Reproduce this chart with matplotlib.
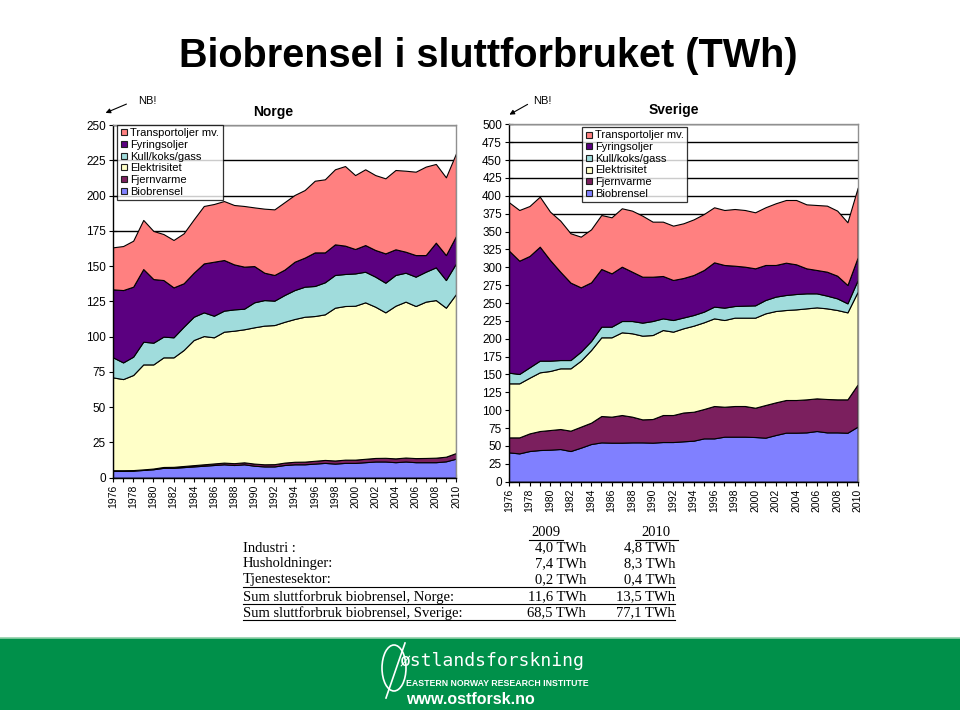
import matplotlib
matplotlib.use("Agg")
import matplotlib.pyplot as plt
from matplotlib.lines import Line2D
from matplotlib.patches import Rectangle, Ellipse

years = list(range(1976, 2011))

# ---------------- Norge (TWh) ----------------
no_bio = [5, 5, 5, 5.5, 6, 7, 7, 7.5, 8, 8.5, 9, 9.5, 9, 9.5, 8.5, 8, 8, 9, 9.5, 9.5,
          10, 10.5, 10, 10.5, 10.5, 11, 11.5, 11.5, 11, 11.5, 11, 11, 11, 11.6, 13.5]
no_fjv = [0.3, 0.3, 0.4, 0.4, 0.5, 0.6, 0.7, 0.8, 0.9, 1.0, 1.1, 1.2, 1.3, 1.4, 1.5, 1.5,
          1.6, 1.7, 1.8, 1.9, 2.0, 2.1, 2.2, 2.3, 2.3, 2.4, 2.5, 2.6, 2.7, 2.8, 2.9, 3.0,
          3.2, 3.3, 4.0]
no_el = [65.8, 64.6, 67.4, 74.4, 73.8, 77.7, 77.6, 82.2, 88.7, 90.9, 89.4, 92.8, 93.9,
         94.3, 96.6, 98.3, 98.6, 99.8, 101.2, 102.7, 102.6, 103.2, 108.3, 108.9, 109.1,
         110.9, 107.2, 103.1, 108.2, 110.5, 107.8, 110.8, 111.7, 105.6, 112.7]
no_kull = [14.2, 11.8, 13.0, 16.1, 15.4, 14.7, 14.2, 16.5, 16.5, 16.8, 15.3, 14.9, 15.1,
           14.6, 17.7, 18.1, 17.3, 19.0, 20.5, 21.3, 21.3, 22.7, 23.2, 22.7, 22.9, 21.7,
           21.3, 21.0, 21.8, 20.5, 20.8, 21.2, 23.2, 19.6, 21.7]
no_fyr = [48.2, 51.3, 49.6, 51.5, 45.1, 40.1, 35.4, 30.8, 31.2, 34.7, 38.3, 35.9, 31.9,
          29.8, 25.7, 19.4, 18.2, 18.0, 20.1, 20.6, 23.8, 21.2, 21.7, 20.1, 17.3, 18.9,
          18.9, 20.8, 18.2, 14.9, 15.3, 11.8, 17.5, 17.7, 19.4]
no_tr = [29.8, 31.2, 32.6, 34.8, 34.1, 32.6, 33.6, 35.4, 37.8, 40.7, 40.9, 41.8, 42.1,
         43.0, 41.6, 45.4, 46.5, 47.8, 47.3, 47.9, 50.8, 51.8, 53.2, 56.4, 52.4, 53.7,
         53.1, 53.2, 56.2, 57.4, 59.1, 62.7, 55.8, 55.1, 58.6]

# ---------------- Sverige (TWh) ----------------
se_bio = [41, 39.6, 42.9, 44.3, 44.8, 45.7, 42.9, 47.6, 52.7, 55, 54.6, 54.6, 55, 55,
          54.6, 55.5, 55.5, 56.5, 57.4, 60.6, 60.6, 63, 63, 63, 62.5, 61.6, 65.3, 68.6,
          68.6, 69, 70.9, 69, 69, 68.5, 77.1]
se_fjv = [21, 22.4, 24.7, 26.6, 27.5, 28, 28.5, 29.4, 29.9, 36.9, 36.4, 38.7, 36, 32.2,
          33.1, 37.8, 37.8, 40.3, 40.5, 41.1, 45.3, 41.9, 42.9, 42.9, 41, 45.7, 45.7,
          45.7, 45.7, 46.2, 45.7, 46.7, 46.2, 46.7, 59.1]
se_el = [75.6, 75.6, 77.9, 82.1, 82.6, 84.9, 87.2, 92.3, 101.6, 110.1, 111, 115.7, 116.6,
         117.1, 117.5, 118.9, 116.6, 117.8, 120.4, 121.3, 122.6, 121.3, 123.6, 123.6,
         126, 128.2, 127.8, 125.9, 126.8, 127.3, 127.3, 126.8, 125, 121.7, 129.7]
se_kull = [14.9, 13.1, 14.5, 16.3, 14.4, 11.6, 11.6, 12.6, 12.6, 14.9, 14.9, 15.8, 17.2,
           18.2, 19.6, 16.3, 16.3, 15.1, 14.9, 14.9, 16.4, 17.3, 16.3, 16.8, 17.2, 18.7,
           20.1, 21, 21.5, 21, 19.6, 17.8, 16.3, 12.6, 16.3]
se_fyr = [170.7, 158.5, 155.8, 159.5, 140.9, 123.6, 108.3, 90, 82.1, 80.7, 74.6, 76, 69,
          64.3, 62, 59.3, 56, 55.3, 56, 58.3, 62, 59.7, 56.4, 54.5, 51.8, 49, 44.3, 45.2,
          41.5, 35, 32.7, 33.5, 31.7, 25.7, 31.7]
se_tr = [67.7, 70.9, 69.9, 70, 67.6, 71.4, 69, 70.9, 74.1, 75.5, 78.4, 81.7, 85.4, 85.4,
         77, 76, 76, 76.5, 77.8, 78.3, 77, 76.9, 79.3, 79.3, 78.4, 80.7, 86.3, 87.7, 90,
         89.5, 90.9, 92.4, 91, 87.7, 97.5]

series_labels = ["Biobrensel", "Fjernvarme", "Elektrisitet", "Kull/koks/gass",
                 "Fyringsoljer", "Transportoljer mv."]
colors = ["#8080FF", "#7B1F5E", "#FFFFC8", "#A0DCDC", "#5B0080", "#FF8080"]

# Table
tbl_years = ["2009", "2010"]
tbl_rows = ["Industri :", "Husholdninger:", "Tjenestesektor:",
            "Sum sluttforbruk biobrensel, Norge:", "Sum sluttforbruk biobrensel, Sverige:"]
tbl_2009 = ["4,0 TWh", "7,4 TWh", "0,2 TWh", "11,6 TWh", "68,5 TWh"]
tbl_2010 = ["4,8 TWh", "8,3 TWh", "0,4 TWh", "13,5 TWh", "77,1 TWh"]

plt.rcParams['font.family'] = ['Liberation Sans', 'DejaVu Sans']

W, H = 960, 710
fig = plt.figure(figsize=(W / 100, H / 100), dpi=100)
fig.patch.set_facecolor("white")


def fx(px):
    return px / W


def fy(py):
    return 1 - py / H


def style_axes(ax, ymax):
    ax.set_xlim(1976, 2010)
    ax.set_ylim(0, ymax)
    ax.set_yticks(range(0, ymax + 1, 25))
    ax.set_xticks(years)
    ax.set_xticklabels([str(y) if (y - 1976) % 2 == 0 else "" for y in years],
                       rotation=90, fontsize=7.5)
    ax.tick_params(axis='y', labelsize=8.5, direction='inout', length=6, width=0.8, pad=2)
    ax.tick_params(axis='x', direction='inout', length=6, width=0.8, pad=2)
    ax.set_axisbelow(True)
    ax.yaxis.grid(True, color='black', linewidth=1.0)
    ax.xaxis.grid(False)
    for s in ['top', 'right']:
        ax.spines[s].set_color('#909090')
        ax.spines[s].set_linewidth(1.0)
    for s in ['left', 'bottom']:
        ax.spines[s].set_color('black')
        ax.spines[s].set_linewidth(1.0)


def legend(ax, anchor):
    handles = [Line2D([], [], marker='s', linestyle='none', markersize=5,
                      markerfacecolor=c, markeredgecolor='#202020', markeredgewidth=0.8)
               for c in colors]
    lg = ax.legend(handles[::-1], series_labels[::-1], loc='upper left',
                   bbox_to_anchor=anchor, borderaxespad=0, fontsize=8,
                   frameon=True, fancybox=False, handlelength=0.6, handletextpad=0.3,
                   labelspacing=0.15, borderpad=0.3)
    lg.get_frame().set_edgecolor('black')
    lg.get_frame().set_linewidth(0.9)
    lg.set_zorder(10)


# Norge
axN = fig.add_axes([fx(113), fy(477.7), 343 / W, 352.7 / H])
axN.stackplot(years, no_bio, no_fjv, no_el, no_kull, no_fyr, no_tr, colors=colors,
              edgecolor='black', linewidth=0.8)
style_axes(axN, 250)
legend(axN, (0.012, 1.0))

# Sverige
axS = fig.add_axes([fx(509), fy(481.7), 348.7 / W, 357.4 / H])
axS.stackplot(years, se_bio, se_fjv, se_el, se_kull, se_fyr, se_tr, colors=colors,
              edgecolor='black', linewidth=0.8)
style_axes(axS, 500)
legend(axS, (0.209, 0.992))

# Titles
fig.text(fx(488), fy(56), "Biobrensel i sluttforbruket (TWh)", ha='center', va='center',
         fontsize=28.5, fontweight='bold', family=['Liberation Sans', 'DejaVu Sans'])
fig.text(fx(273), fy(112), "Norge", ha='center', va='center', fontsize=10, fontweight='bold')
fig.text(fx(674), fy(110), "Sverige", ha='center', va='center', fontsize=10, fontweight='bold')

# NB! arrows
fig.text(fx(138), fy(101), "NB!", ha='left', va='center', fontsize=8)
fig.add_artist(matplotlib.patches.FancyArrowPatch(
    (fx(129), fy(103)), (fx(103), fy(114)), transform=fig.transFigure,
    arrowstyle='-|>', mutation_scale=7, color='black', linewidth=0.8))
fig.text(fx(533), fy(101), "NB!", ha='left', va='center', fontsize=8)
fig.add_artist(matplotlib.patches.FancyArrowPatch(
    (fx(530), fy(103)), (fx(507), fy(116)), transform=fig.transFigure,
    arrowstyle='-|>', mutation_scale=7, color='black', linewidth=0.8))

# Table
serif = ['Liberation Serif', 'DejaVu Serif']
tfs = 10.5
fig.text(fx(546), fy(533), tbl_years[0], ha='center', va='center', fontsize=tfs, family=serif)
fig.text(fx(656), fy(533), tbl_years[1], ha='center', va='center', fontsize=tfs, family=serif)
fig.add_artist(Line2D([fx(529), fx(563)], [fy(540), fy(540)], color='black', lw=0.8,
                      transform=fig.transFigure))
fig.add_artist(Line2D([fx(635), fx(678)], [fy(540), fy(540)], color='black', lw=0.8,
                      transform=fig.transFigure))
row_y = [548, 564, 580, 597, 613]
for i, yy in enumerate(row_y):
    fig.text(fx(243), fy(yy), tbl_rows[i], ha='left', va='center', fontsize=tfs, family=serif)
    fig.text(fx(586), fy(yy), tbl_2009[i], ha='right', va='center', fontsize=tfs, family=serif)
    fig.text(fx(675), fy(yy), tbl_2010[i], ha='right', va='center', fontsize=tfs, family=serif)
    if i >= 2:
        fig.add_artist(Line2D([fx(243), fx(675)], [fy(yy + 7), fy(yy + 7)], color='black',
                              lw=0.8, transform=fig.transFigure))

# Footer
fig.add_artist(Rectangle((0, 0), 1, fy(638), transform=fig.transFigure,
                         facecolor='#00904A', edgecolor='none'))
fig.add_artist(Line2D([0, 1], [fy(637.5), fy(637.5)], color='#8FD0A8', lw=1.2,
                      transform=fig.transFigure))
fig.add_artist(Ellipse((fx(394), fy(668)), 24 / W, 46 / H, transform=fig.transFigure,
                       facecolor='none', edgecolor='white', linewidth=1.2))
fig.add_artist(Line2D([fx(386), fx(405)], [fy(698), fy(643)], color='white', lw=1.2,
                      transform=fig.transFigure))
fig.text(fx(400), fy(661), "østlandsforskning", ha='left', va='center', fontsize=13,
         color='white', family=['DejaVu Sans Mono'])
fig.text(fx(406), fy(683), "EASTERN NORWAY RESEARCH INSTITUTE", ha='left', va='center',
         fontsize=6.3, color='white', fontweight='bold',
         family=['Liberation Sans', 'DejaVu Sans'])
fig.text(fx(406), fy(699), "www.ostforsk.no", ha='left', va='center', fontsize=11.5,
         color='white', fontweight='bold')

fig.savefig("out.png", dpi=100)
